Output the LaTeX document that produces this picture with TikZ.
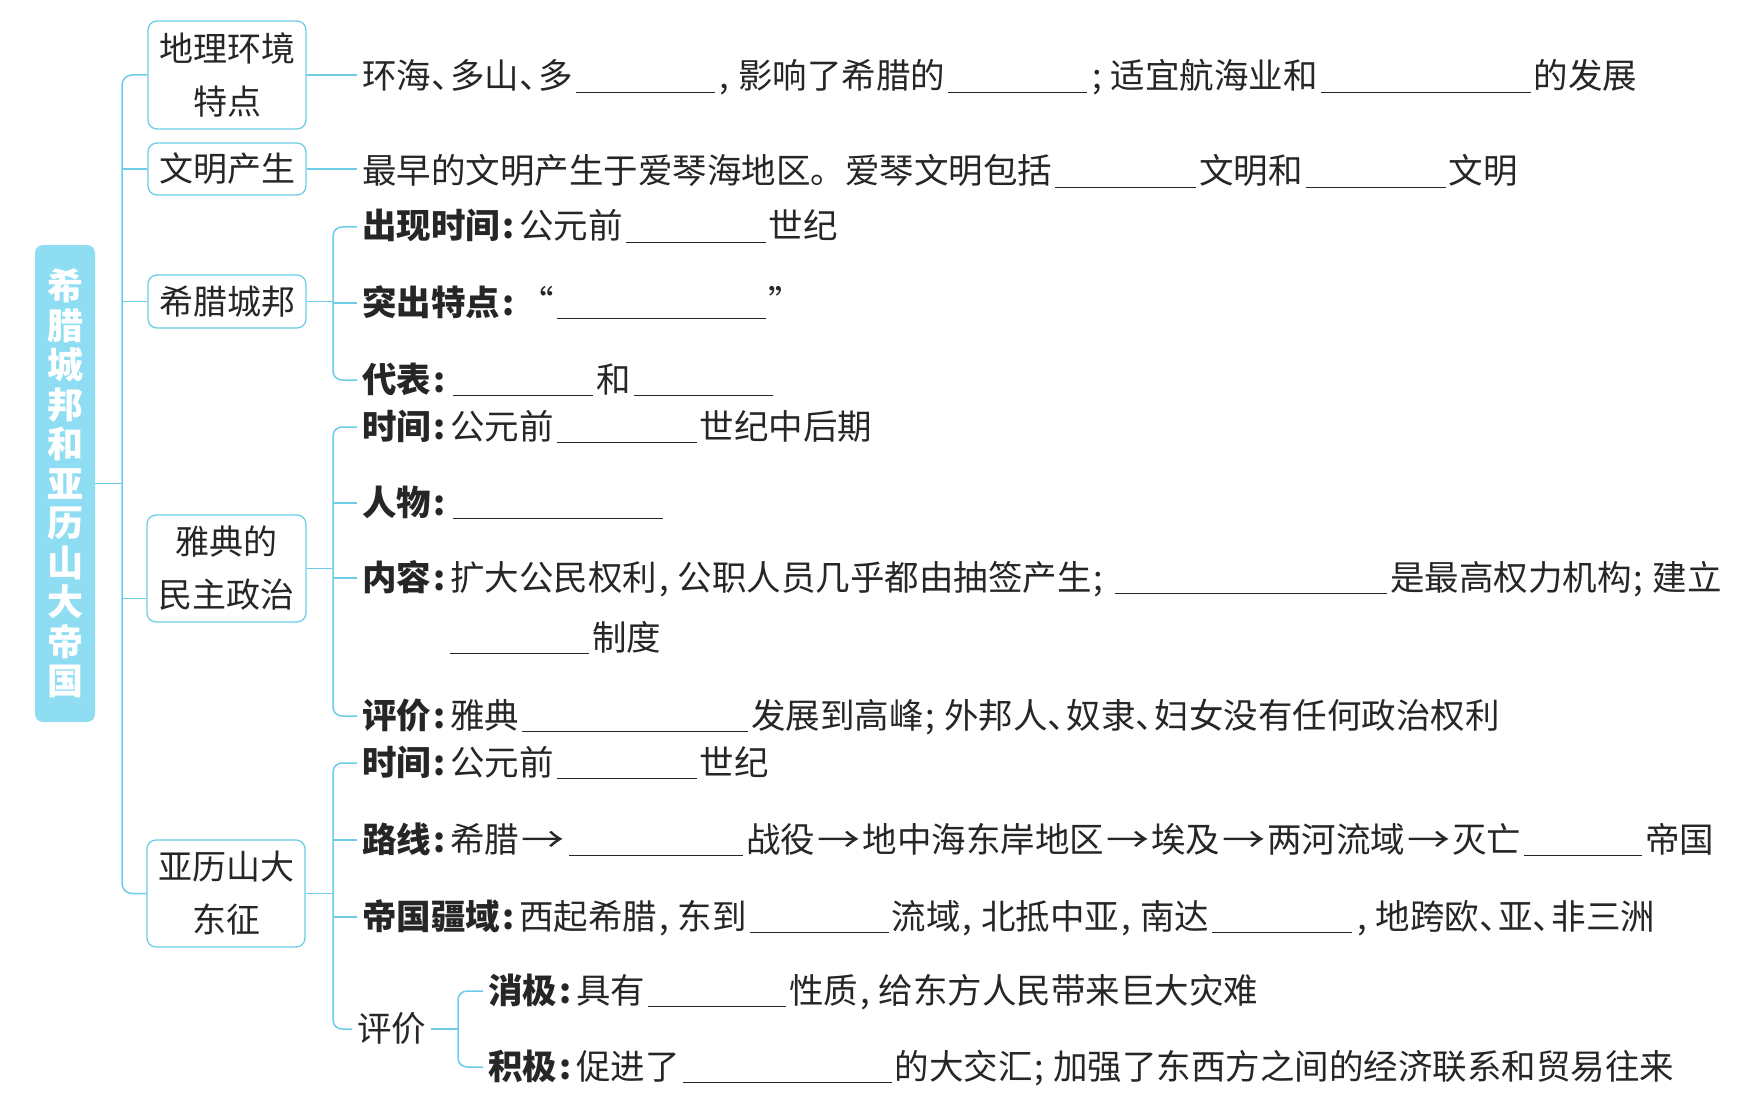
\documentclass[tikz,border=0pt]{standalone}
\usepackage{fontspec}
\setmainfont{Noto Sans CJK SC}
\definecolor{cy}{HTML}{6DCDE6}
\definecolor{tfill}{HTML}{8EDDF2}
\definecolor{ink}{HTML}{262626}
\newcommand\bl[1]{\hspace{3pt}\rule[-4pt]{#1pt}{1.3pt}\hspace{3pt}}
\newcommand\lb[1]{{\bfseries #1}}
\newcommand\cma{\hspace{2pt},\hspace{9pt}}
\newcommand\smc{\hspace{2pt};\hspace{9pt}}
\newcommand\cln{\hspace{2pt}:\hspace{5pt}}
\newcommand\dn{\makebox[0.55em][l]{、}}
\newcommand\arr{\hspace{2pt}\scalebox{1.25}[1]{→}\hspace{2pt}}
\tikzset{
  box/.style={draw=cy, line width=1.3pt, rounded corners=9pt, align=center, text=ink,
    font=\fontsize{34}{53}\selectfont, inner sep=0pt},
  txt/.style={anchor=west, inner xsep=5pt, inner ysep=0pt, text=ink,
    font=\fontsize{34.5}{38}\selectfont, text height=29pt, text depth=5pt},
  conn/.style={cy, line width=1.5pt},
}
\begin{document}
\begin{tikzpicture}[x=1pt,y=-1pt]
\useasboundingbox[fill=white] (0,0) rectangle (1740,1118);
% title
\node[fill=tfill, rounded corners=8pt, minimum width=60pt, minimum height=477pt, text=white,
  font=\fontsize{36}{39.5}\selectfont\bfseries, align=center, inner sep=0pt] (title) at (65,483.5)
  {希\\腊\\城\\邦\\和\\亚\\历\\山\\大\\帝\\国};
% level 1 boxes
\node[box, minimum width=158pt, minimum height=108pt] (b1) at (227,75) {地理环境\\特点};
\node[box, minimum width=158pt, minimum height=52pt] (b2) at (227,169) {文明产生};
\node[box, minimum width=158pt, minimum height=53pt] (b3) at (227,301.5) {希腊城邦};
\node[box, minimum width=159pt, minimum height=107pt] (b4) at (226.5,568.5) {雅典的\\民主政治};
\node[box, minimum width=158pt, minimum height=107pt] (b5) at (226,893.5) {亚历山大\\东征};
% spine
\coordinate (sp) at (122,483);
\coordinate (b4in) at ([yshift=-30pt]b4.west);
\draw[conn, rounded corners=10pt] (b1.west) -- (b1.west -| sp) -- (b5.west -| sp) -- (b5.west);
\draw[conn] (b2.west) -- (b2.west -| sp);
\draw[conn] (b3.west) -- (b3.west -| sp);
\draw[conn] (b4in) -- (b4in -| sp);
\draw[conn] (title.east) -- (title.east -| sp);
% bracket x
\coordinate (k) at (333,0);
\coordinate (k2) at (458,0);
% row 1, 2
\node[txt] (r1) at (357,77) {环海\dn 多山\dn 多\bl{139}\cma 影响了希腊的\bl{139}\smc 适宜航海业和\bl{210}的发展};
\node[txt] (r2) at (357,172) {最早的文明产生于爱琴海地区。爱琴文明包括\bl{141}文明和\bl{140}文明};
\draw[conn] (b1.east) -- (b1.east -| r1.west);
\draw[conn] (b2.east) -- (b2.east -| r2.west);
% 希腊城邦
\node[txt] (c1) at (357,227) {\lb{出现时间\cln}公元前\bl{140}世纪};
\node[txt] (c2) at (357,303) {\lb{突出特点\cln}“\bl{209}”};
\node[txt] (c3) at (357,380) {\lb{代表\cln}\bl{140}和\bl{139}};
\draw[conn] (b3.east) -- (b3.east -| k);
\draw[conn, rounded corners=9pt] (c1.west) -- (c1.west -| k) -- (c3.west -| k) -- (c3.west);
\draw[conn] (c2.west) -- (c2.west -| k);
% 雅典
\node[txt] (d1) at (357,427) {\lb{时间\cln}公元前\bl{140}世纪中后期};
\node[txt] (d2) at (357,503) {\lb{人物\cln}\bl{210}};
\node[txt] (d3) at (357,578) {\lb{内容\cln}扩大公民权利\cma 公职人员几乎都由抽签产生\smc\bl{272}是最高权力机构\smc 建立};
\node[txt] (d3b) at (442,638) {\bl{139}制度};
\node[txt] (d4) at (357,716) {\lb{评价\cln}雅典\bl{226}发展到高峰\smc 外邦人\dn 奴隶\dn 妇女没有任何政治权利};
\draw[conn] (b4.east) -- (b4.east -| k);
\draw[conn, rounded corners=9pt] (d1.west) -- (d1.west -| k) -- (d4.west -| k) -- (d4.west);
\draw[conn] (d2.west) -- (d2.west -| k);
\draw[conn] (d3.west) -- (d3.west -| k);
% 亚历山大
\node[txt] (e1) at (357,763) {\lb{时间\cln}公元前\bl{140}世纪};
\node[txt] (e2) at (357,840) {\lb{路线\cln}希腊\arr\bl{174}战役\arr 地中海东岸地区\arr 埃及\arr 两河流域\arr 灭亡\bl{118}帝国};
\node[txt] (e3) at (357,917) {\lb{帝国疆域\cln}西起希腊\cma 东到\bl{139}流域\cma 北抵中亚\cma 南达\bl{140}\cma 地跨欧\dn 亚\dn 非三洲};
\node[txt] (e4) at (352,1029) {评价};
\draw[conn] (b5.east) -- (b5.east -| k);
\draw[conn, rounded corners=9pt] (e1.west) -- (e1.west -| k) -- (e4.west -| k) -- (e4.west);
\draw[conn] (e2.west) -- (e2.west -| k);
\draw[conn] (e3.west) -- (e3.west -| k);
% 评价 sub
\node[txt] (f1) at (483,991) {\lb{消极\cln}具有\bl{138}性质\cma 给东方人民带来巨大灾难};
\node[txt] (f2) at (483,1067) {\lb{积极\cln}促进了\bl{209}的大交汇\smc 加强了东西方之间的经济联系和贸易往来};
\draw[conn] (e4.east) -- (e4.east -| k2);
\draw[conn, rounded corners=9pt] (f1.west) -- (f1.west -| k2) -- (f2.west -| k2) -- (f2.west);
\end{tikzpicture}
\end{document}
